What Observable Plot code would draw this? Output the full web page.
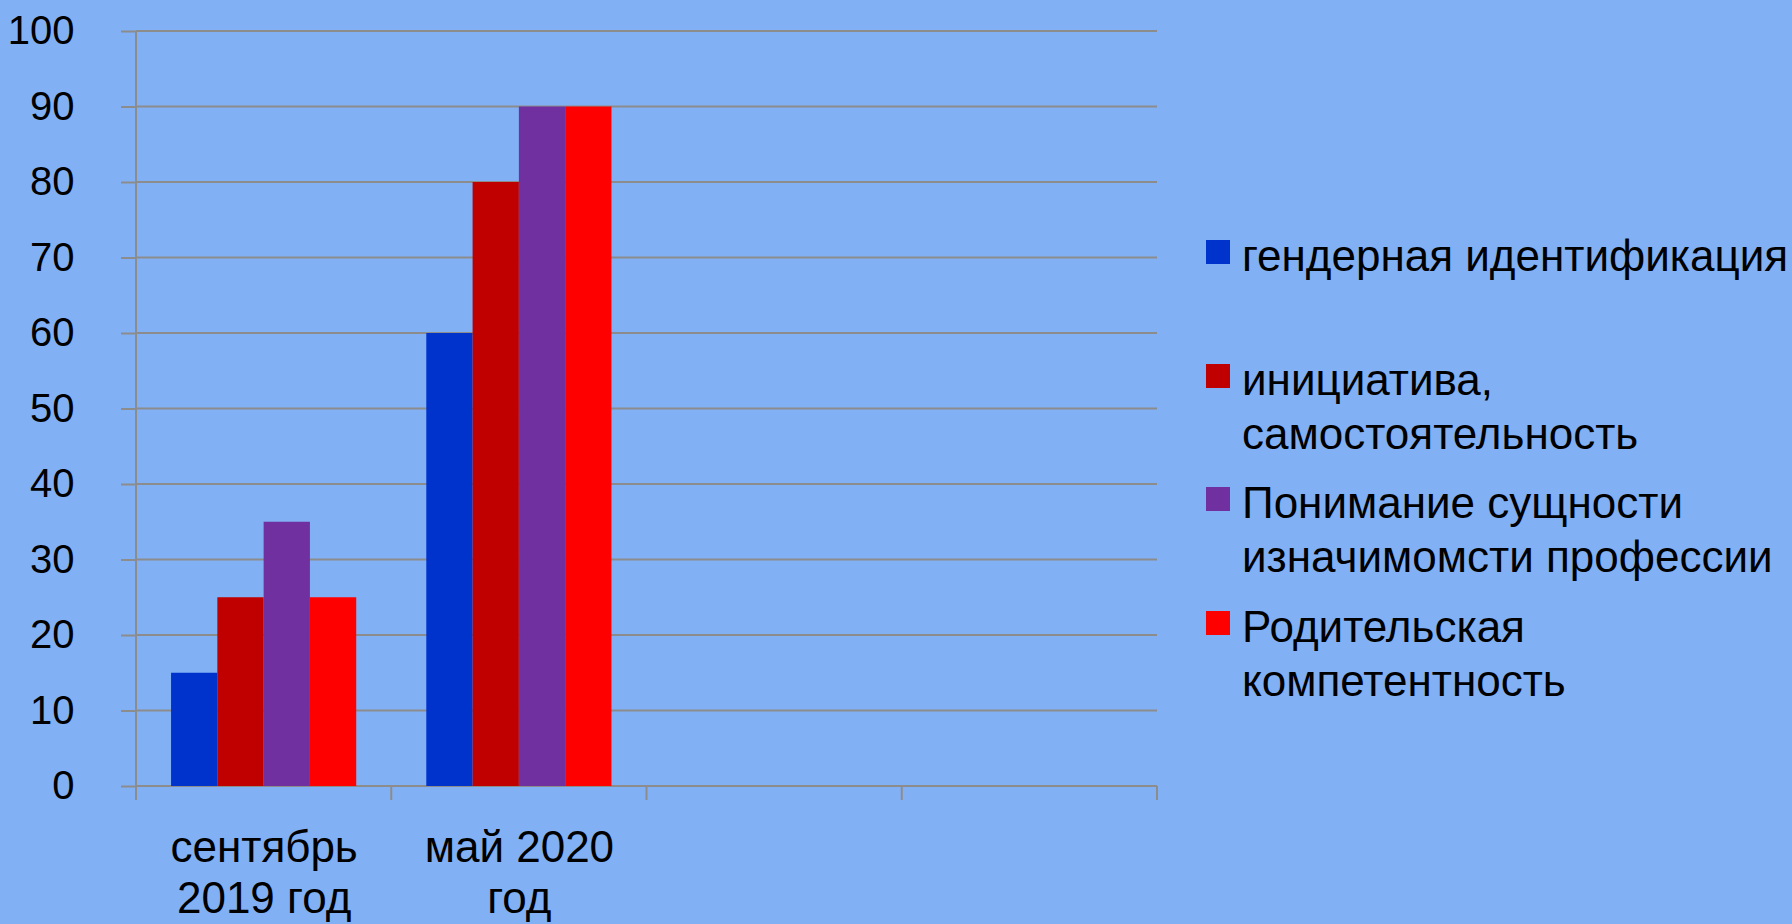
<!DOCTYPE html>
<html>
<head>
<meta charset="utf-8">
<script src="https://cdn.jsdelivr.net/npm/d3@7"></script>
<script src="https://cdn.jsdelivr.net/npm/@observablehq/plot@0.6"></script>
<style>
  html, body { margin: 0; padding: 0; background: #82B0F4; width: 1792px; height: 924px; overflow: hidden; }
  #wrap { position: relative; width: 1792px; height: 924px; font-family: "Liberation Sans", Arial, sans-serif; }
  #legend { position: absolute; left: 1206px; top: 229px; }
  .item { position: relative; height: 123.5px; }
  .sw { position: absolute; left: 0; top: 11px; width: 24px; height: 24px; }
  .lbl { position: absolute; left: 36px; top: 0; font-size: 44px; line-height: 54px; white-space: pre; color: #000; }
</style>
</head>
<body>
<div id="wrap"><div id="chart"></div><div id="legend"></div></div>
<script>
const categories = ["сентябрь\n2019 год", "май 2020\nгод", " ", "  "];
const series = [
  "гендерная идентификация",
  "инициатива,\nсамостоятельность",
  "Понимание сущности\nизначимомсти профессии",
  "Родительская\nкомпетентность"
];
const colors = ["#0033CC", "#C00000", "#7030A0", "#FF0000"];
const gender = [15, 60];
const initiative = [25, 80];
const understanding = [35, 90];
const parental = [25, 90];
const yTicks = [0, 10, 20, 30, 40, 50, 60, 70, 80, 90, 100];

const seriesValues = [gender, initiative, understanding, parental];
const data = [];
seriesValues.forEach((vals, si) => {
  vals.forEach((v, ci) => data.push({cat: categories[ci], series: series[si], value: v}));
});

const grid = "#8C8C8C";
const chart = Plot.plot({
  width: 1792,
  height: 924,
  marginLeft: 136,
  marginRight: 635,
  marginTop: 31,
  marginBottom: 138,
  style: {background: "transparent", fontFamily: "'Liberation Sans', Arial, sans-serif", color: "#000", overflow: "visible"},
  fx: {domain: categories, padding: 0, round: false},
  x: {domain: series, paddingInner: 0, paddingOuter: 0.757, axis: null, round: false},
  y: {domain: [0, 100]},
  color: {domain: series, range: colors},
  marks: [
    Plot.barY(data, {fx: "cat", x: "series", y: "value", fill: "series", inset: 0}),
    Plot.axisY({ticks: yTicks, tickSize: 15, tickPadding: 47, fontSize: 40, stroke: grid, strokeWidth: 2, strokeOpacity: 1, label: null, fill: "#000"}),
    Plot.axisFx({anchor: "bottom", tickSize: 0, tickPadding: 40, fontSize: 44, lineHeight: 1.15, label: null, fill: "#000"})
  ]
});
document.getElementById("chart").appendChild(chart);

// gridlines, axis line and category boundary ticks from the library's scales
const fxs = chart.scale("fx");
const ys = chart.scale("y");
const bounds = categories.map(c => fxs.apply(c));
bounds.push(fxs.apply(categories[categories.length - 1]) + fxs.bandwidth);
const y0 = ys.apply(0), yTop = ys.apply(100);
const svg = d3.select(chart.tagName.toLowerCase() === "svg" ? chart : chart.querySelector("svg"));
const gg = svg.insert("g", ":first-child").attr("stroke", grid).attr("stroke-width", 2);
yTicks.forEach(t => gg.append("line")
  .attr("x1", bounds[0]).attr("x2", bounds[bounds.length - 1])
  .attr("y1", ys.apply(t)).attr("y2", ys.apply(t)));
const g = svg.append("g").attr("stroke", grid).attr("stroke-width", 2);
g.append("line").attr("x1", bounds[0]).attr("x2", bounds[0]).attr("y1", yTop).attr("y2", y0 + 14);
bounds.forEach(b => g.append("line").attr("x1", b).attr("x2", b).attr("y1", y0).attr("y2", y0 + 14));

// legend
const legend = d3.select("#legend");
series.forEach((s, i) => {
  const it = legend.append("div").attr("class", "item");
  it.append("div").attr("class", "sw").style("background", colors[i]);
  it.append("div").attr("class", "lbl").text(s);
});
</script>
</body>
</html>
